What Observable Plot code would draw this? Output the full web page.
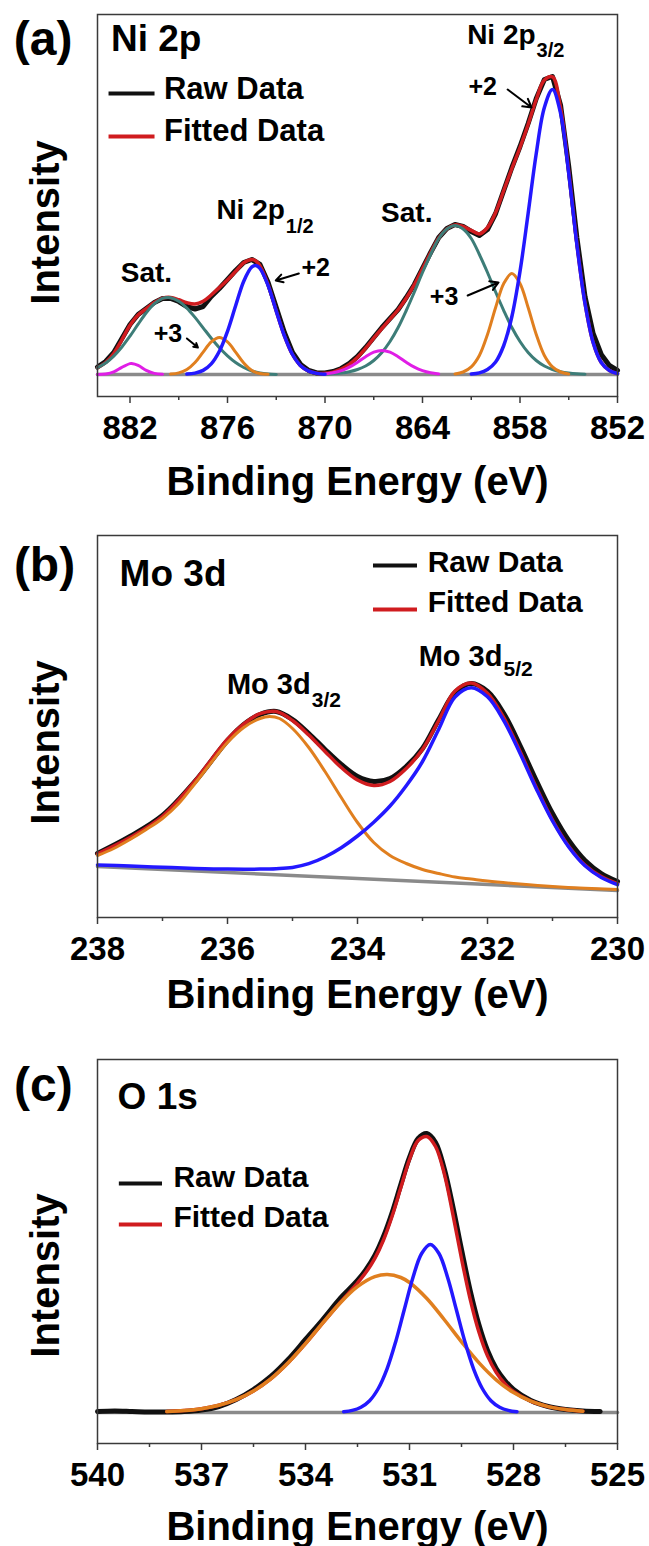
<!DOCTYPE html>
<html><head><meta charset="utf-8">
<script src="https://cdn.jsdelivr.net/npm/d3@7"></script>
<script src="https://cdn.jsdelivr.net/npm/@observablehq/plot@0.6"></script>
<style>
html,body{margin:0;padding:0;background:#fff;overflow:hidden;width:649px;height:1546px;}
.panel{position:absolute;left:0;}
</style></head><body>
<div id="pa" class="panel" style="top:0px"></div>
<div id="pb" class="panel" style="top:521px"></div>
<div id="pc" class="panel" style="top:1045px"></div>
<script>
// ---------- (a) Ni 2p ----------
const niTicks = [882, 876, 870, 864, 858, 852];
const niMinorTicks = [879, 873, 867, 861, 855];
const niRaw = [[884,7.5],[883.5,13],[883,22],[882.5,36],[882,50],[881.5,60],[881,66],[880.5,72],[880,76],[879.5,76],[879,73],[878.5,68],[878,65.5],[877.5,68],[877,78],[876.5,86],[876,95],[875.5,104],[875,112],[874.5,115],[874,110],[873.5,92],[873,67],[872.5,42],[872,22],[871.5,10],[871,4],[870.5,1.5],[870,1.5],[869.5,3],[869,6],[868.5,11],[868,18],[867.5,27],[867,37],[866.5,47],[866,56],[865.5,65],[865,77],[864.5,90],[864,106],[863.5,122],[863,137],[862.5,146],[862,150],[861.5,148],[861,143],[860.5,139],[860,145],[859.5,161],[859,184],[858.5,207],[858,228],[857.5,251],[857,276],[856.5,295],[856,298],[855.5,269],[855,208],[854.5,137],[854,78],[853.5,41],[853,20],[852.5,9],[852,4]];
const niFit = [[884,6.8],[883.5,12],[883,21],[882.5,34.7],[882,49.3],[881.5,59.4],[881,65.9],[880.5,71.9],[880,76.3],[879.5,77.1],[879,74.8],[878.5,71.8],[878,70.5],[877.5,73.2],[877,79.5],[876.5,86.9],[876,94.5],[875.5,103.1],[875,111.8],[874.5,115.1],[874.25,113.5],[874,108.5],[873.5,89.6],[873,63.5],[872.5,38.7],[872,20],[871.5,8.8],[871,3.3],[870.5,1.3],[870,1.2],[869.5,2.4],[869,5.3],[868.5,10.1],[868,17.3],[867.5,26.3],[867,36.3],[866.5,46],[866,55.3],[865.5,64.8],[865,76.3],[864.5,89.8],[864,105.8],[863.5,121.7],[863,136.6],[862.5,145.6],[862,149.6],[861.5,148],[861,144.1],[860.5,140.6],[860,147],[859.5,162],[859,184],[858.5,206],[858,227],[857.5,250],[857,275],[856.5,294.5],[856,297.6],[855.5,266.3],[855,203.1],[854.5,130.7],[854,71.3],[853.5,32],[853,12],[852.5,4],[852,1]];
const niNi2p32 = [[861,0.5],[860.5,1.6],[860,5],[859.5,12.5],[859,29],[858.5,58],[858,103],[857.5,161],[857,221],[856.5,267],[856,285],[855.5,261],[855,201],[854.5,130],[854,71],[853.5,32],[853,12],[852.5,4],[852,1]];
const niNi3p32 = [[862,0.6],[861.5,2.5],[861,7.6],[860.5,19],[860,40],[859.5,67],[859,91],[858.5,101],[858,91],[857.5,67],[857,40],[856.5,19],[856,7.6],[855.5,2.5],[855,0.6]];
const niSatA32 = [[870,0.3],[869.5,0.7],[869,1.5],[868.5,2.8],[868,5],[867.5,8.5],[867,14],[866.5,22],[866,33],[865.5,47],[865,64],[864.5,82.5],[864,102],[863.5,120],[863,136],[862.5,145.5],[862,149],[861.5,145.5],[861,136],[860.5,120],[860,102],[859.5,82.5],[859,64],[858.5,47],[858,33],[857.5,22],[857,14],[856.5,8.5],[856,5],[855.5,2.8],[855,1.5],[854.5,0.7],[854,0.3]];
const niSatB32 = [[870,0.6],[869.5,1.7],[869,3.8],[868.5,7.3],[868,12.3],[867.5,17.8],[867,22.3],[866.5,24],[866,22.3],[865.5,17.8],[865,12.3],[864.5,7.3],[864,3.8],[863.5,1.7],[863,0.6]];
const niNi2p12 = [[878.5,0.4],[878,1.4],[877.5,4.1],[877,10.6],[876.5,23.2],[876,43.2],[875.5,68.7],[875,93.3],[874.5,107.6],[874.25,108.9],[874,106],[873.5,88.9],[873,63.4],[872.5,38.7],[872,20],[871.5,8.8],[871,3.3],[870.5,1.1],[870,0.3]];
const niNi3p12 = [[879.5,0.4],[879,1.6],[878.5,5],[878,12],[877.5,22.4],[877,32.6],[876.5,37],[876,32.6],[875.5,22.4],[875,11.5],[874.5,4],[874,1],[873.5,0.2]];
const niSatA12 = [[884,6.8],[883.5,11.5],[883,18.4],[882.5,27.5],[882,38.4],[881.5,50.3],[881,61.7],[880.5,70.8],[880,76.1],[879.7,77],[879.5,76.7],[879,73.2],[878.5,66.4],[878,57.1],[877.5,46.7],[877,36.3],[876.5,26.7],[876,18.7],[875.5,12],[875,7],[874.5,3.5],[874,1.5],[873.5,0.5],[873,0.1]];
const niSatB12 = [[884,0.1],[883.5,0.5],[883,2.6],[882.5,7.2],[882,10.9],[881.9,11],[881.5,9.1],[881,4.2],[880.5,1.1],[880,0.2]];
const niBackground = [[884,0],[852,0]];

// ---------- (b) Mo 3d ----------
const moTicks = [238, 236, 234, 232, 230];
const moMinorTicks = [237, 235, 233, 231];
const moRaw = [[238,64],[237.5,81],[237,102],[236.5,136],[236,177],[235.75,193],[235.5,203],[235.25,206],[235,198],[234.75,184],[234.5,168],[234.25,153],[234,141],[233.75,136],[233.5,139],[233.25,151],[233,169],[232.75,198],[232.5,225],[232.25,234],[232,226],[231.75,204],[231.5,172],[231.25,137],[231,104],[230.75,77],[230.5,57],[230.25,44],[230,36]];
const moFit = [[238,63.6],[237.5,79.9],[237,101.2],[236.5,136.6],[236.25,157.8],[236,178.4],[235.75,193.6],[235.5,203.9],[235.25,206],[235,197],[234.75,182.5],[234.5,166],[234.25,150],[234,137.5],[233.75,132],[233.5,136],[233.25,149],[233,168],[232.75,197],[232.5,226.5],[232.25,234.5],[232,224.2],[231.75,199.8],[231.5,166.2],[231.25,130.2],[231,97.5],[230.75,71.3],[230.5,52.4],[230.25,40.9],[230,33.9]];
const mo3d52 = [[238,52.6],[237.5,51.4],[237,50.2],[236.5,49.1],[236,48.4],[235.5,48.4],[235.25,48.8],[235,50],[234.75,53.8],[234.5,60.5],[234.25,69.8],[234,81.5],[233.75,95.3],[233.5,111.5],[233.25,131.8],[233,156],[232.75,188.3],[232.5,220.5],[232.25,229.75],[232,220.7],[231.75,197],[231.5,164.2],[231.25,128.8],[231,96.5],[230.75,70.5],[230.5,51.7],[230.25,40],[230,32.9]];
const mo3d32 = [[238,62],[237.75,69],[237.5,78],[237.25,88],[237,99],[236.75,114],[236.5,134],[236.25,155],[236,175],[235.75,190],[235.5,199],[235.35,201],[235.2,199],[235,189],[234.75,170],[234.5,146],[234.25,120],[234,95],[233.75,75],[233.5,62],[233.25,54],[233,48],[232.75,44],[232.5,40.5],[232.25,38.5],[232,36.5],[231.5,33.5],[231,31],[230.5,29.2],[230,28]];
const moBackground = [[238,51],[230,27]];

// ---------- (c) O 1s ----------
const oTicks = [540, 537, 534, 531, 528, 525];
const oMinorTicks = [538.5, 535.5, 532.5, 529.5, 526.5];
const oRaw = [[540,1],[539.5,1.5],[539,1],[538.5,0.5],[538,0.5],[537.5,1],[537,2.5],[536.5,6],[536,13],[535.5,23],[535,36],[534.5,53],[534,73],[533.5,93],[533,114],[532.75,123],[532.5,132],[532.25,143],[532,157],[531.75,176],[531.5,200],[531.25,228],[531,255],[530.75,274],[530.5,279],[530.25,270],[530,244],[529.75,206],[529.5,163],[529.25,122],[529,88],[528.75,62],[528.5,44],[528.25,32],[528,23],[527.5,12],[527,6],[526.5,3],[526,1.5],[525.5,1]];
const oFit = [[538,0.9],[537.5,1.9],[537,3.8],[536.5,7.2],[536,12.8],[535.5,21.5],[535,33.6],[534.5,49.7],[534,68.8],[533.5,89.6],[533,110],[532.75,119.7],[532.5,129.5],[532.25,140.4],[532,154.1],[531.75,172.5],[531.5,196.5],[531.25,224.9],[531,253],[530.75,272],[530.5,276],[530.25,266],[530,239.3],[529.75,198.4],[529.5,154],[529.25,113.4],[529,80.7],[528.75,56.6],[528.5,40.1],[528.25,28.8],[528,21],[527.5,11.3],[527,5.9],[526.5,2.9],[526,1.3]];
const oLattice = [[532.9,0.8],[532.65,2.1],[532.4,5.3],[532.15,11.8],[531.9,24],[531.65,43.4],[531.4,70.6],[531.15,103],[530.9,135],[530.65,159],[530.4,168],[530.15,159],[529.9,135],[529.65,103],[529.4,70.6],[529.15,43.4],[528.9,24],[528.65,11.8],[528.4,5.3],[528.15,2.1],[527.9,0.8]];
const oAdsorbed = [[538,0.9],[537.5,1.9],[537,3.8],[536.5,7.2],[536,12.8],[535.5,21.5],[535,33.6],[534.5,49.7],[534,68.8],[533.5,89.6],[533,109.5],[532.5,125.8],[532,135.8],[531.64,138],[531.25,135],[531,130],[530.5,114],[530,93],[529.5,70.7],[529,49.9],[528.5,32.7],[528,19.9],[527.5,11.3],[527,5.9],[526.5,2.9],[526,1.3]];
const oBackground = [[540,0],[525,0]];

const legendNames = ["Raw Data", "Fitted Data"];

// ---------- helpers ----------
const FONT = "'Liberation Sans', Arial, Helvetica, sans-serif";
const COL = {raw: "#111111", fit: "#d01c1f", blue: "#2318ff", orange: "#e07f1f", teal: "#3d7d78", magenta: "#e01ee6", base: "#8a8a8a", axis: "#3a3a3a"};
const pts = arr => arr.map(([E, I]) => ({E, I}));
const curve = (arr, stroke, strokeWidth, c = "catmull-rom") =>
  Plot.line(pts(arr), {x: "E", y: "I", stroke, strokeWidth, curve: c, strokeLinejoin: "round", strokeLinecap: "round"});
const txt = (E, I, text, fontSize, textAnchor = "start", extra = {}) =>
  Plot.text([{E, I, text}], {x: "E", y: "I", text: "text", fontSize, fontWeight: "bold", textAnchor, lineAnchor: "middle", fill: "black", ...extra});
const arrow = (x1, y1, x2, y2) =>
  Plot.arrow([{x1, y1, x2, y2}], {x1: "x1", y1: "y1", x2: "x2", y2: "y2", stroke: "black", strokeWidth: 2, headLength: 7});
const legend = (E1, E2, Et, Iraw, Ifit, Itraw, Itfit, fs) => [
  Plot.ruleY([Iraw], {x1: E1, x2: E2, stroke: COL.raw, strokeWidth: 4}),
  Plot.ruleY([Ifit], {x1: E1, x2: E2, stroke: COL.fit, strokeWidth: 4}),
  txt(Et, Itraw, legendNames[0], fs),
  txt(Et, Itfit, legendNames[1], fs)
];

function panel({el, xDomain, yDomain, frameH, mb, majors, minors, yLabelDy, xLabelDy, marks}) {
  const svg = Plot.plot({
    width: 649, height: 14 + frameH + mb,
    marginTop: 14, marginBottom: mb, marginLeft: 97, marginRight: 32,
    x: {domain: xDomain, label: null},
    y: {domain: yDomain, axis: null, label: null},
    style: {fontFamily: FONT, fontWeight: "bold", background: "white", color: "black", overflow: "visible"},
    marks: [
      ...marks,
      Plot.frame({stroke: COL.axis, strokeWidth: 1.5}),
      Plot.axisX({ticks: majors, tickSize: 7, tickPadding: 12, fontSize: 33, fontWeight: "bold", tickFormat: d => `${d}`, label: null, stroke: COL.axis, strokeWidth: 1.5}),
      Plot.axisX({ticks: minors, tickSize: 4, tickFormat: () => "", label: null, stroke: COL.axis, strokeWidth: 1.5}),
      Plot.text(["Intensity"], {frameAnchor: "left", rotate: -90, dx: -51, dy: yLabelDy, fontSize: 40, fontWeight: "bold", textAnchor: "middle", lineAnchor: "middle"}),
      Plot.text(["Binding Energy (eV)"], {frameAnchor: "bottom", dy: xLabelDy, fontSize: 40, fontWeight: "bold", textAnchor: "middle", lineAnchor: "middle"})
    ]
  });
  document.getElementById(el).appendChild(svg);
}

// ---------- panel (a) ----------
panel({
  el: "pa", xDomain: [884, 852], yDomain: [-22, 360], frameH: 382, mb: 104,
  majors: niTicks, minors: niMinorTicks, yLabelDy: 17, xLabelDy: 86,
  marks: [
    curve(niBackground, COL.base, 3.5, "linear"),
    curve(niRaw, COL.raw, 5, "linear"),
    curve(niFit, COL.fit, 3.5),
    curve(niSatA32, COL.teal, 3), curve(niSatA12, COL.teal, 3),
    curve(niSatB32, COL.magenta, 3), curve(niSatB12, COL.magenta, 3),
    curve(niNi3p32, COL.orange, 3), curve(niNi3p12, COL.orange, 3),
    curve(niNi2p32, COL.blue, 3.5), curve(niNi2p12, COL.blue, 3.5),
    txt(887.35, 335, "(a)", 48, "middle"),
    txt(883.17, 335.5, "Ni 2p", 37),
    ...legend(883.29, 880.46, 879.91, 281, 238, 285.3, 243.3, 31),
    txt(857.04, 339.2, "Ni 2p", 28, "end"), txt(857.04, 324.3, "3/2", 20, "start", {dx: 1}),
    txt(860.3, 288, "+2", 25, "middle"), arrow(858.76, 285, 857.29, 267),
    txt(864.97, 161, "Sat.", 28, "middle"),
    txt(862.67, 78, "+3", 25, "middle"), arrow(861.22, 79, 859.32, 92),
    txt(872.47, 164, "Ni 2p", 28, "end"), txt(872.47, 148.3, "1/2", 20, "start", {dx: 1}),
    txt(880.99, 101, "Sat.", 28, "middle"),
    txt(870.57, 107, "+2", 25, "middle"), arrow(871.61, 101, 873.03, 94),
    txt(879.66, 41, "+3", 25, "middle"), arrow(878.5, 36, 877.82, 27)
  ]
});

// ---------- panel (b) ----------
panel({
  el: "pb", xDomain: [238, 230], yDomain: [0, 382], frameH: 382, mb: 104,
  majors: moTicks, minors: moMinorTicks, yLabelDy: 16, xLabelDy: 78,
  marks: [
    curve(moBackground, COL.base, 3.5, "linear"),
    curve(moRaw, COL.raw, 5),
    curve(moFit, COL.fit, 3.5),
    curve(mo3d32, COL.orange, 3),
    curve(mo3d52, COL.blue, 3.5),
    txt(238.815, 352, "(b)", 48, "middle"),
    txt(237.66, 343.5, "Mo 3d", 37),
    ...legend(233.754, 233.077, 232.92, 352, 308, 355, 315, 30),
    txt(231.77, 261, "Mo 3d", 29, "end"), txt(231.77, 248, "5/2", 21, "start", {dx: 1}),
    txt(234.72, 233, "Mo 3d", 29, "end"), txt(234.72, 217, "3/2", 21, "start", {dx: 1})
  ]
});

// ---------- panel (c) ----------
panel({
  el: "pc", xDomain: [540, 525], yDomain: [-31, 353], frameH: 384, mb: 102,
  majors: oTicks, minors: oMinorTicks, yLabelDy: 24, xLabelDy: 84,
  marks: [
    curve(oBackground, COL.base, 3.5, "linear"),
    curve(oRaw, COL.raw, 5),
    curve(oFit, COL.fit, 3.5),
    curve(oAdsorbed, COL.orange, 3.5),
    curve(oLattice, COL.blue, 3.5),
    txt(541.56, 327, "(c)", 48, "middle"),
    txt(539.42, 315.5, "O 1s", 37),
    ...legend(539.37, 538.125, 537.81, 229, 188, 235, 195, 30)
  ]
});
</script></body></html>
